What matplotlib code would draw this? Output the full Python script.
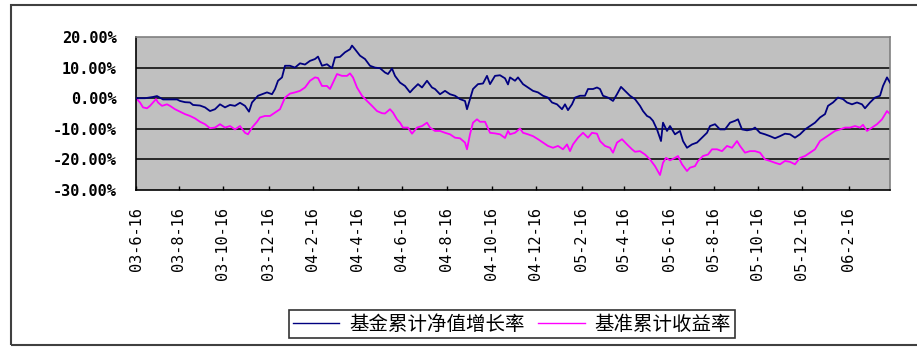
import matplotlib
matplotlib.use('Agg')
import matplotlib.pyplot as plt
from matplotlib.lines import Line2D
from matplotlib.patches import Rectangle

# trading-day index of each reading, and cumulative returns in percent
fund_day = [0, 9, 17, 21, 27, 34, 41, 44, 49, 54, 57, 64, 69, 74, 79, 84, 89, 94, 99, 104,
            109, 113, 116, 122, 126, 131, 136, 139, 142, 146, 149, 154, 159, 164, 169, 174, 179, 182, 186, 191,
            196, 199, 204, 209, 214, 216, 219, 224, 229, 234, 239, 244, 249, 252, 256, 259, 264, 269, 274, 277,
            282, 286, 291, 296, 299, 304, 309, 314, 319, 324, 329, 331, 334, 337, 342, 347, 351, 354, 359, 364,
            369, 372, 374, 379, 382, 387, 392, 397, 402, 407, 412, 416, 421, 426, 429, 432, 436, 439, 444, 449,
            452, 457, 461, 464, 467, 472, 477, 481, 485, 489, 494, 499, 504, 507, 511, 514, 517, 521, 525, 527,
            531, 534, 539, 544, 547, 551, 556, 561, 566, 571, 574, 579, 584, 589, 594, 599, 602, 606, 611, 616,
            619, 624, 629, 634, 639, 644, 649, 654, 659, 664, 669, 674, 679, 684, 689, 692, 697, 702, 707, 711,
            716, 721, 726, 729, 734, 739, 744, 747, 751, 754]
fund_pct = [0, 0, 0.4, 0.7, -0.4, -0.4, -0.4, -0.9, -1.3, -1.4, -2.2, -2.4, -3, -4.2, -3.6, -2, -3, -2.2, -2.5, -1.5,
            -2.5, -4.4, -1.4, 0.8, 1.3, 1.9, 1.3, 3, 5.7, 6.8, 10.6, 10.6, 10, 11.4, 11, 12.2, 12.8, 13.6, 10.6, 11.1,
            9.8, 13.3, 13.5, 15, 16, 17.2, 16, 13.9, 12.8, 10.6, 10, 9.8, 8.4, 7.9, 9.7, 7.3, 5.1, 4, 1.9, 3,
            4.6, 3.5, 5.7, 3.5, 3, 1.3, 2.4, 1.3, 0.8, -0.3, -0.9, -3.6, -0.3, 3, 4.6, 4.8, 7.3, 4.6, 7.3, 7.5,
            6.5, 4.5, 6.8, 5.7, 6.8, 4.6, 3.5, 2.4, 1.9, 0.8, 0.2, -1.4, -2, -3.6, -2, -3.9, -2, 0.2, 0.8, 0.8,
            3, 3, 3.5, 3, 0.8, 0.2, -0.9, 1.3, 3.7, 2.4, 0.8, -0.3, -2.5, -4.2, -5.8, -6.3, -7.4, -10.2, -14, -8,
            -10.7, -9.1, -11.8, -10.7, -14, -16.2, -15.1, -14.5, -12.9, -11.3, -9.1, -8.5, -10.2, -10.2, -8, -7.4, -6.9, -10.2, -10.5, -10.2,
            -9.6, -11.3, -11.8, -12.4, -13.1, -12.4, -11.6, -11.8, -12.9, -11.8, -10.2, -9.1, -8, -6.3, -5.2, -2.5, -1.4, 0.2, -0.3, -1.4,
            -2, -1.4, -2, -3.3, -1.4, 0.2, 0.8, 4, 6.8, 5.1]

bench_day = [0, 4, 7, 11, 14, 17, 20, 22, 26, 31, 34, 39, 44, 49, 54, 59, 64, 69, 74, 79,
             84, 89, 94, 99, 104, 109, 112, 116, 121, 124, 129, 134, 139, 144, 149, 154, 159, 164, 169, 174,
             179, 182, 186, 191, 194, 197, 201, 206, 211, 214, 217, 221, 226, 231, 236, 241, 246, 249, 254, 257,
             261, 264, 267, 272, 276, 281, 286, 291, 294, 299, 304, 309, 314, 319, 324, 329, 331, 334, 337, 341,
             344, 349, 354, 359, 364, 369, 372, 374, 379, 384, 387, 392, 397, 402, 407, 412, 417, 422, 427, 431,
             434, 437, 442, 447, 452, 456, 461, 464, 469, 474, 477, 481, 486, 491, 496, 499, 504, 509, 514, 519,
             524, 527, 530, 534, 539, 542, 546, 551, 554, 559, 562, 567, 572, 576, 581, 586, 591, 596, 601, 604,
             609, 614, 619, 624, 629, 634, 639, 644, 649, 654, 659, 664, 669, 674, 679, 684, 689, 694, 699, 704,
             709, 714, 719, 724, 727, 731, 736, 741, 746, 751, 754]
bench_pct = [0, -1.4, -3, -3.3, -2.5, -1.4, -0.3, -1.4, -2.5, -2, -2.5, -3.6, -4.4, -5.2, -5.8, -6.6, -7.7, -8.5, -9.8, -9.6,
             -8.5, -9.6, -9.1, -10.2, -9.1, -11.3, -11.8, -9.6, -7.7, -6.3, -5.8, -5.8, -4.7, -3.6, 0.2, 1.5, 1.9, 2.4, 3.5, 5.7,
             6.8, 6.6, 4, 4, 3, 5.1, 7.9, 7.3, 7.3, 8.1, 6.8, 3.5, 0.8, -0.9, -2.5, -4.2, -4.9, -5, -3.6, -4.7,
             -6.9, -8, -9.6, -9.6, -11.6, -9.6, -9.1, -8, -9.6, -10.7, -10.7, -11.3, -11.8, -12.9, -13.1, -14.5, -16.7, -11.8, -8, -6.9,
             -7.7, -7.7, -11.3, -11.5, -11.8, -13, -10.7, -11.8, -11.3, -9.9, -11.3, -11.8, -12.4, -13.4, -14.5, -15.6, -16.2, -15.6, -16.7, -15.1,
             -17.3, -15.1, -12.9, -11.3, -12.9, -11.3, -11.6, -14, -15.6, -16.2, -17.8, -14.5, -13.4, -15.1, -16.7, -17.5, -17.3, -18.4, -20, -22.2,
             -25.1, -21.1, -19.5, -20.3, -19.5, -18.9, -21.6, -23.8, -22.7, -22.2, -20.5, -18.9, -18.4, -16.7, -16.7, -17.3, -15.6, -16.2, -14, -15.6,
             -17.8, -17.3, -17.3, -17.8, -20, -20.5, -21.1, -21.6, -20.5, -20.8, -21.6, -19.5, -18.9, -17.8, -16.7, -14, -12.9, -11.8, -10.7, -10.2,
             -9.6, -9.6, -9.1, -9.6, -8.7, -10.7, -9.6, -8.5, -6.9, -4.2, -5.2]

tick_day = [0, 43, 87, 133, 177, 222, 266, 311, 356, 400, 446, 488, 534, 578, 622, 666, 713]
tick_labels = ['03-6-16', '03-8-16', '03-10-16', '03-12-16', '04-2-16', '04-4-16', '04-6-16', '04-8-16',
               '04-10-16', '04-12-16', '05-2-16', '05-4-16', '05-6-16', '05-8-16', '05-10-16', '05-12-16', '06-2-16']
y_ticks = [-30, -20, -10, 0, 10, 20]
series_names = ['基金累计净值增长率', '基准累计收益率']
series_colors = ['#000080', '#FF00FF']

fig = plt.figure(figsize=(9.17, 3.47), dpi=100)
ax = fig.add_axes([136 / 917, 1 - 190 / 347, 754 / 917, 153 / 347])
ax.set_facecolor('#C0C0C0')

# inner grid lines (top edge stays grey like the frame)
for v in y_ticks[1:-1]:
    ax.axhline(v, color='black', lw=1.1, zorder=1)

ax.plot(fund_day, fund_pct, color=series_colors[0], lw=1.3, zorder=3)
ax.plot(bench_day, bench_pct, color=series_colors[1], lw=1.3, zorder=2)

ax.set_xlim(0, 754)
ax.set_ylim(-30, 20)
ax.set_yticks(y_ticks)
ax.set_yticklabels([f'{v:.2f}%' for v in y_ticks], family='DejaVu Sans Mono',
                   fontweight='bold', fontsize=11)
ax.set_xticks(tick_day)
ax.set_xticklabels(tick_labels, rotation=90, family='DejaVu Sans Mono', fontsize=11)
ax.tick_params(axis='y', length=0, pad=14)
ax.tick_params(axis='x', direction='in', length=3, width=1, pad=12, colors='black')

for side in ['left', 'bottom']:
    ax.spines[side].set_color('black')
    ax.spines[side].set_linewidth(1.2)
for side in ['top', 'right']:
    ax.spines[side].set_color('#808080')
    ax.spines[side].set_linewidth(1.2)

handles = [Line2D([], [], color=c, lw=1) for c in series_colors]
leg = fig.legend(handles, series_names, loc='center', bbox_to_anchor=(512 / 917, 1 - 324 / 347),
                 ncol=2, frameon=True, fancybox=False, edgecolor='black',
                 prop={'family': ['Noto Sans CJK SC', 'DejaVu Sans'], 'size': 14},
                 handlelength=2.4, handletextpad=0.5, columnspacing=0.7, borderpad=0.2)
leg.get_frame().set_linewidth(1.2)

# outer chart frame
fig.patches.append(Rectangle((11 / 917, 2 / 347), 1.2, 1 - 7 / 347, transform=fig.transFigure,
                             fill=False, edgecolor='#404040', lw=1.5))

fig.savefig('out.png', dpi=100)
